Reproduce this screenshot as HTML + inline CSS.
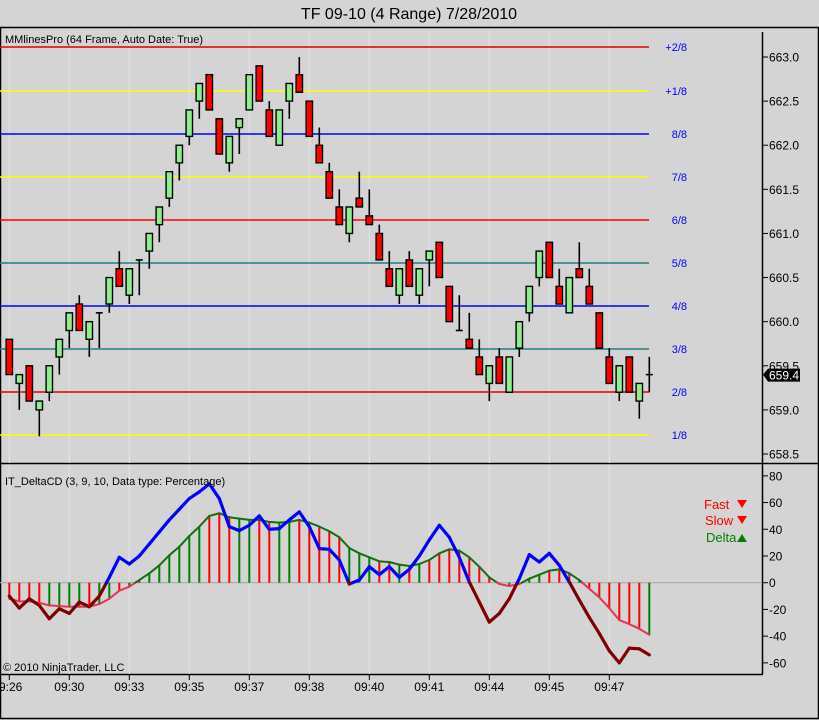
<!DOCTYPE html>
<html><head><meta charset="utf-8"><style>
html,body{margin:0;padding:0;background:#d4d4d4;}
svg{display:block;font-family:"Liberation Sans",Arial,sans-serif;}
</style></head><body>
<svg id="chart" width="819" height="720" viewBox="0 0 819 720" xmlns="http://www.w3.org/2000/svg">
<rect x="0" y="0" width="819" height="720" fill="#d4d4d4"/>
<text x="409" y="19" font-size="16" text-anchor="middle" fill="#000">TF 09-10 (4 Range)  7/28/2010</text>
<rect x="0.5" y="27.5" width="818" height="691" fill="none" stroke="#000" stroke-width="1.5"/>
<line x1="0" y1="463.5" x2="819" y2="463.5" stroke="#000" stroke-width="1.5"/>
<line x1="0" y1="674.5" x2="763" y2="674.5" stroke="#000" stroke-width="1.5"/>
<line x1="762.5" y1="32" x2="762.5" y2="674" stroke="#000" stroke-width="1.5"/>
<g id="grid"></g>
<g id="mm"></g>
<g id="candles"></g>
<g id="pax"></g>
<g id="hist"></g>
<g id="lines"></g>
<g id="iax"></g>
<g id="xax"></g>
<text x="5" y="43" font-size="11" fill="#000">MMlinesPro (64 Frame, Auto Date: True)</text>
<text x="5" y="485" font-size="11" fill="#000">IT_DeltaCD  (3, 9, 10, Data type: Percentage)</text>
<text x="3" y="671" font-size="11" fill="#000">© 2010 NinjaTrader, LLC</text>
<g>
<text x="704" y="509" font-size="13" fill="#ff0000">Fast</text>
<polygon points="737,500 747,500 742,508" fill="#ff0000"/>
<text x="705" y="525" font-size="13" fill="#ff0000">Slow</text>
<polygon points="737,516 747,516 742,524" fill="#ff0000"/>
<text x="706" y="542" font-size="13" fill="#008000">Delta</text>
<polygon points="737,542 747,542 742,534" fill="#008000"/>
</g>
</svg>
<script>
const opens=[659.8,659.3,659.5,659.0,659.2,659.6,659.9,660.2,659.8,660.1,660.2,660.6,660.3,660.7,660.8,661.1,661.4,661.8,662.1,662.5,662.8,662.3,661.8,662.2,662.4,662.9,662.4,662.0,662.5,662.8,662.5,662.0,661.7,661.3,661.0,661.4,661.2,661.0,660.6,660.3,660.7,660.3,660.7,660.9,660.4,659.9,659.8,659.6,659.3,659.6,659.2,659.7,660.1,660.5,660.9,660.4,660.1,660.6,660.4,660.1,659.6,659.2,659.6,659.1,659.4];
const closes=[659.4,659.4,659.1,659.1,659.5,659.8,660.1,659.9,660.0,660.1,660.5,660.4,660.6,660.7,661.0,661.3,661.7,662.0,662.4,662.7,662.4,661.9,662.1,662.3,662.8,662.5,662.1,662.4,662.7,662.6,662.1,661.8,661.4,661.1,661.3,661.3,661.1,660.7,660.4,660.6,660.4,660.6,660.8,660.5,660.0,659.9,659.7,659.4,659.5,659.3,659.6,660.0,660.4,660.8,660.5,660.2,660.5,660.5,660.2,659.7,659.3,659.5,659.2,659.3,659.4];
const highs=[659.8,659.4,659.5,659.1,659.5,659.8,660.1,660.3,660.0,660.1,660.5,660.8,660.6,660.7,661.0,661.3,661.7,662.0,662.4,662.7,662.8,662.3,662.1,662.3,662.8,662.9,662.5,662.4,662.7,663.0,662.5,662.2,661.8,661.5,661.3,661.7,661.5,661.1,660.8,660.6,660.8,660.6,660.8,660.9,660.4,660.3,660.1,659.8,659.5,659.7,659.6,660.0,660.4,660.8,660.9,660.6,660.5,660.9,660.6,660.1,659.7,659.5,659.6,659.3,659.6];
const lows=[659.4,659.0,659.1,658.7,659.1,659.4,659.7,659.9,659.6,659.7,660.1,660.4,660.2,660.3,660.6,660.9,661.3,661.6,662.0,662.3,662.4,661.9,661.7,661.9,662.4,662.5,662.1,662.0,662.3,662.6,662.1,661.8,661.4,661.1,660.9,661.3,661.1,660.7,660.4,660.2,660.4,660.2,660.4,660.5,660.0,659.9,659.7,659.4,659.1,659.3,659.2,659.6,660.0,660.4,660.5,660.2,660.1,660.5,660.2,659.7,659.3,659.1,659.2,658.9,659.2];
const mmLevels=[663.11,662.62,662.13,661.64,661.15,660.67,660.18,659.69,659.20,658.71];
const mmLabels=["+2/8","+1/8","8/8","7/8","6/8","5/8","4/8","3/8","2/8","1/8"];
const mmColors=["#e00000","#ffff00","#0000ff","#ffff00","#ff0000","#208080","#0000ff","#208080","#e00000","#ffff00"];
const priceTicks=[663.0,662.5,662.0,661.5,661.0,660.5,660.0,659.5,659.0,658.5];
const fastVals=[-10,-19,-12,-17,-27,-19.5,-23,-14.5,-18,-10,4,19,14,20,29,38,47,55,63,68,74,63,42,39,43,50,40,40.5,47,53,42,25.5,25,17,-1,2,12,6,12,4,10,20,32,43,34,19,0.5,-14.5,-29.5,-23,-12,3,21,15.5,22,13,0.5,-13,-26,-38,-51,-60,-49,-49.5,-54];
const slowVals=[-12,-14,-14,-15,-17,-17.5,-18,-18,-18,-16,-12,-6,-3,2,7,13,20.5,27,35,42,50,52,49,48,47,47,45.5,45,45.5,47,45,42,38.5,34,26,22,19,16,15.5,13.5,12.5,14,17,22,25,24,19,12,4,-1,-2.5,-1,3,6,9,10,7,2,-4.5,-11,-19,-28,-31,-34.5,-39];
const histColors="RRRRGGGGRGGRGRGGGGGGRRRGGRRGGRRRRRGGGRRGRGRRRRRRRRGGGGRRRGRRRRRRG";
const indTicks=[80,60,40,20,0,-20,-40,-60];
const timeLabels=["9:26","09:30","09:33","09:35","09:37","09:38","09:40","09:41","09:44","09:45","09:47"];
const timeBars=[0,6,12,18,24,30,36,42,48,54,60];

const NS="http://www.w3.org/2000/svg";
function mk(parent,tag,attrs,text){const e=document.createElementNS(NS,tag);for(const k in attrs)e.setAttribute(k,attrs[k]);if(text!==undefined)e.textContent=text;document.getElementById(parent).appendChild(e);return e;}
const xB=i=>9.3+10*i;
const yP=p=>57+(663-p)*88.22;
const yI=v=>582.7-v*1.3358;

for(let k=0;k<=12;k++){const x=xB(k*6);if(x>650)break;
 const g=mk('grid','line',{x1:x,y1:30,x2:x,y2:463,stroke:'#e4e4e4','stroke-width':1});
 
 
 const g2=mk('grid','line',{x1:x,y1:465,x2:x,y2:674,stroke:'#e4e4e4','stroke-width':1});
 
 }

mmLevels.forEach((p,i)=>{const y=Math.round(yP(p));
 const l=mk('mm','line',{x1:0,y1:y,x2:649,y2:y,stroke:mmColors[i],'stroke-width':1.5});
 
 
 const t=mk('mm','text',{x:687,y:y+4,'font-size':11,fill:'#0000ff','text-anchor':'end'},mmLabels[i]);
 
 });

opens.forEach((o,i)=>{const c=closes[i],x=xB(i);
 const w=mk('candles','line',{x1:x,y1:yP(highs[i]),x2:x,y2:yP(lows[i]),stroke:'#000','stroke-width':1.6});
 
 
 const top=yP(Math.max(o,c)),bot=yP(Math.min(o,c));
 if(Math.abs(o-c)<0.001){const d=mk('candles','line',{x1:x-3.5,y1:top,x2:x+3.5,y2:top,stroke:'#000','stroke-width':1.6});
  
  }
 else{const r=mk('candles','rect',{x:x-3.2,y:top,width:6.4,height:bot-top,fill:c>o?'#90ee90':'#ff0000',stroke:'#000','stroke-width':1.4});
  
  }});

priceTicks.forEach(p=>{const y=yP(p);
 const t=mk('pax','line',{x1:762,y1:y,x2:768,y2:y,stroke:'#000','stroke-width':1});
 
 
 const l=mk('pax','text',{x:769,y:y+4.5,'font-size':12,fill:'#000'},p.toFixed(1));
 
 });
{const last=closes[closes.length-1],y=yP(last);
 const b=mk('pax','polygon',{points:`763,${y} 768,${y-6} 800,${y-6} 800,${y+7} 768,${y+7}`,fill:'#000'});
 
 
 const t=mk('pax','text',{x:769,y:y+5,'font-size':12,fill:'#fff'},last.toFixed(1));
 
 }

{const z=mk('hist','line',{x1:0,y1:yI(0),x2:762,y2:yI(0),stroke:'#a8a8a8','stroke-width':1.2});
 
 }
slowVals.forEach((v,i)=>{const x=xB(i);
 const b=mk('hist','line',{x1:x,y1:yI(0),x2:x,y2:yI(v),stroke:histColors[i]==='G'?'#008000':'#ff0000','stroke-width':2});
 
 });

function drawSeries(vals,posCol,negCol,width,name){
 for(let i=0;i<vals.length-1;i++){const a=vals[i],b=vals[i+1],x1=xB(i),x2=xB(i+1);
  const segs=[];
  if((a>=0)!==(b>=0)){const t=a/(a-b),xm=x1+(x2-x1)*t;segs.push([x1,a,xm,0,a>=0]);segs.push([xm,0,x2,b,b>=0]);}
  else segs.push([x1,a,x2,b,a>=0]);
  segs.forEach(s=>{const l=mk('lines','line',{x1:s[0],y1:yI(s[1]),x2:s[2],y2:yI(s[3]),stroke:s[4]?posCol:negCol,'stroke-width':width,'stroke-linecap':'round'});
   
   });}}
drawSeries(slowVals,'#107010','#e8305a',2,'slow-line');
drawSeries(fastVals,'#0000ff','#800000',3.2,'fast-line');

indTicks.forEach(v=>{const y=yI(v);
 const t=mk('iax','line',{x1:762,y1:y,x2:768,y2:y,stroke:'#000','stroke-width':1});
 
 
 const l=mk('iax','text',{x:769,y:y+4.5,'font-size':12,fill:'#000'},String(v));
 
 });

timeBars.forEach((b,i)=>{const x=xB(b);
 const t=mk('xax','line',{x1:x,y1:674,x2:x,y2:680,stroke:'#000','stroke-width':1});
 
 
 const l=mk('xax','text',{x:i===0?-1:x,y:691,'font-size':12,fill:'#000','text-anchor':i===0?'start':'middle'},timeLabels[i]);
 
 });
</script>
</body></html>
